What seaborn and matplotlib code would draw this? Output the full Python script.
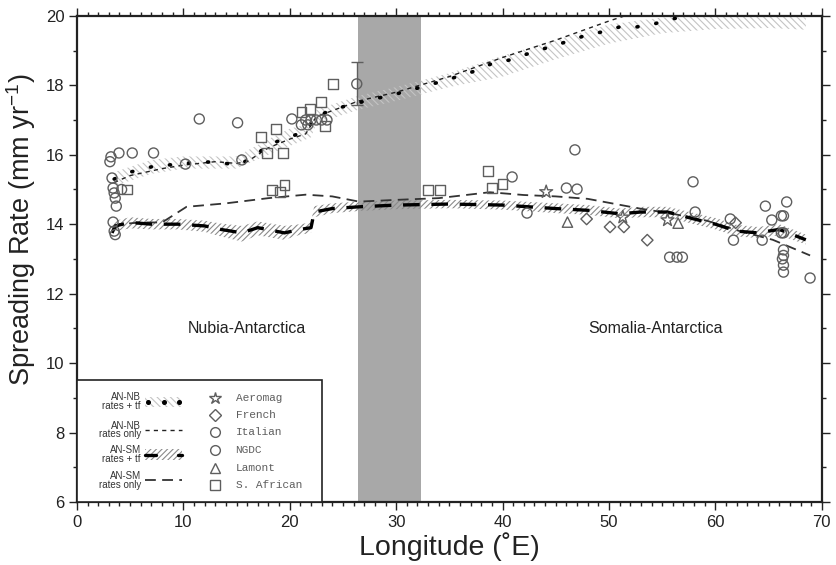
import numpy as np
import pandas as pd
import matplotlib
matplotlib.use("Agg")
import matplotlib.pyplot as plt
import seaborn as sns
from matplotlib.patches import Rectangle

# ---------------- model curves ----------------
# Nubia-Antarctica, rates + transform faults (centre of the uncertainty band)
nb_tf_lon = [3.5, 5, 7, 10, 13, 15, 16.5, 18, 20, 21.5, 22.5, 24, 26.5, 30, 33,
             34.8, 36.3, 37.7, 39.1, 40.7, 42.1, 43.5, 45.1, 46.5, 48.0, 49.4,
             51.0, 52.6, 54.0, 55.4, 57.0]
nb_tf_rate = [15.3, 15.5, 15.65, 15.75, 15.8, 15.7, 15.9, 16.3, 16.5, 16.7, 17.1,
              17.3, 17.5, 17.75, 18.0, 18.16, 18.3, 18.44, 18.64, 18.73, 18.88,
              19.02, 19.16, 19.31, 19.45, 19.54, 19.68, 19.68, 19.74, 19.88, 19.97]
# Nubia-Antarctica, rates only
nb_only_lon = [3.5, 5, 8, 10, 13, 15, 16, 18, 20, 21.5, 22.5, 26.5, 30, 35, 40,
               45, 50, 51.5, 55, 57]
nb_only_rate = [15.2, 15.4, 15.6, 15.7, 15.8, 15.75, 15.8, 16.2, 16.45, 16.6, 17.1,
                17.55, 17.8, 18.25, 18.8, 19.3, 19.85, 20.0, 20.05, 20.05]
# Nubia-Antarctica uncertainty band
nb_band_lon = [3.5, 7, 10, 15, 18, 20, 22, 22.5, 26.5, 30, 35, 40, 45, 50, 55,
               60, 65, 68.5]
nb_band_lo = [15.1, 15.45, 15.6, 15.6, 16.0, 16.25, 16.5, 16.9, 17.3, 17.55,
              17.95, 18.25, 18.75, 19.2, 19.5, 19.62, 19.65, 19.6]
nb_band_hi = [15.5, 15.85, 15.95, 15.95, 16.45, 16.75, 16.9, 17.3, 17.7, 17.95,
              18.35, 18.85, 19.3, 19.75, 19.95, 20.0, 20.0, 19.95]

# Somalia-Antarctica, rates + transform faults, with its band
sm_tf_lon = [3.3, 3.6, 5, 7, 9.5, 12, 13.5, 15.5, 17, 19.5, 21, 22, 22.3, 24,
             26.5, 30, 35, 40, 45, 48, 51, 53, 55.5, 58, 60, 62, 64, 66, 68.5]
sm_tf_rate = [13.75, 13.95, 14.05, 14.0, 14.0, 13.95, 13.85, 13.75, 13.9, 13.75,
              13.85, 13.9, 14.35, 14.45, 14.5, 14.55, 14.58, 14.55, 14.45, 14.4,
              14.3, 14.35, 14.35, 14.15, 14.0, 13.8, 13.75, 13.85, 13.55]
sm_band_lo = [13.6, 13.8, 13.88, 13.85, 13.85, 13.78, 13.65, 13.5, 13.68, 13.55,
              13.7, 13.75, 14.2, 14.32, 14.38, 14.43, 14.46, 14.42, 14.32, 14.27,
              14.17, 14.2, 14.2, 14.0, 13.85, 13.65, 13.6, 13.68, 13.42]
sm_band_hi = [13.9, 14.1, 14.2, 14.15, 14.15, 14.1, 14.02, 13.95, 14.08, 13.95,
              14.0, 14.05, 14.52, 14.6, 14.65, 14.68, 14.7, 14.68, 14.6, 14.55,
              14.45, 14.5, 14.5, 14.32, 14.18, 13.98, 13.92, 14.0, 13.7]
# Somalia-Antarctica, rates only
sm_only_lon = [3.5, 4, 6, 8, 10.3, 14, 18, 21.5, 24, 26.5, 30, 34, 38.8, 42, 45,
               48, 52.9, 56, 59.2, 62.3, 65.4, 68.9]
sm_only_rate = [13.85, 14.0, 14.05, 14.05, 14.5, 14.6, 14.75, 14.85, 14.8, 14.65,
                14.7, 14.75, 14.92, 14.84, 14.8, 14.73, 14.45, 14.3, 14.1, 13.8,
                13.55, 13.1]

# ---------------- observed spreading rates ----------------
aeromag_lon = [44.1, 51.3, 55.5]
aeromag_rate = [14.93, 14.2, 14.12]

french_lon = [47.9, 50.1, 51.4, 53.6, 61.9]
french_rate = [14.15, 13.92, 13.92, 13.54, 14.04]

italian_lon = [3.2, 3.95, 5.2, 7.2, 3.1, 11.5, 15.1, 10.2, 15.5, 20.2, 26.3,
               40.9, 46.8, 46.0, 47.0, 42.3, 57.9, 58.1, 61.4, 64.7, 66.7, 68.9]
italian_rate = [15.94, 16.05, 16.05, 16.05, 15.8, 17.03, 16.92, 15.73, 15.85,
                17.03, 18.04, 15.36, 16.14, 15.04, 15.01, 14.32, 15.22, 14.35,
                14.15, 14.52, 14.64, 12.45]

ngdc_lon = [3.3, 3.4, 3.5, 4.2, 3.6, 3.7, 3.4, 3.5, 3.6, 21.1, 21.7, 21.5, 22.0,
            22.5, 23.0, 23.5, 55.7, 56.4, 56.9, 61.7, 65.3, 64.4, 66.4, 66.2,
            66.4, 66.2, 66.4, 66.4, 66.3, 66.4, 66.4]
ngdc_rate = [15.33, 15.04, 14.9, 15.0, 14.75, 14.52, 14.06, 13.8, 13.7, 16.86,
             16.86, 17.0, 17.0, 17.0, 17.0, 17.0, 13.05, 13.05, 13.05, 13.54,
             14.12, 13.54, 14.24, 14.24, 13.75, 13.75, 13.26, 13.1, 13.0, 12.82,
             12.62]

lamont_lon = [46.1, 56.5]
lamont_rate = [14.06, 14.03]

safrican_lon = [4.7, 18.3, 19.1, 19.5, 33.0, 34.1, 38.6, 39.0, 40.0, 24.1, 22.9,
                21.9, 21.1, 18.7, 17.3, 17.9, 19.4, 23.3]
safrican_rate = [15.0, 14.98, 14.93, 15.13, 14.98, 14.98, 15.53, 15.04, 15.15,
                 18.04, 17.52, 17.32, 17.23, 16.74, 16.51, 16.05, 16.05, 16.83]

# one observation carries an explicit uncertainty
err_lon = [26.3]
err_rate = [18.04]
err_sigma = [0.62]

# plate-boundary transition zone
gap_lon = [26.4, 32.3]

sources = ["Aeromag", "French", "Italian", "NGDC", "Lamont", "S. African"]
obs = pd.concat([
    pd.DataFrame({"lon": aeromag_lon, "rate": aeromag_rate, "source": "Aeromag"}),
    pd.DataFrame({"lon": french_lon, "rate": french_rate, "source": "French"}),
    pd.DataFrame({"lon": italian_lon, "rate": italian_rate, "source": "Italian"}),
    pd.DataFrame({"lon": ngdc_lon, "rate": ngdc_rate, "source": "NGDC"}),
    pd.DataFrame({"lon": lamont_lon, "rate": lamont_rate, "source": "Lamont"}),
    pd.DataFrame({"lon": safrican_lon, "rate": safrican_rate, "source": "S. African"}),
], ignore_index=True)
marker_map = {"Aeromag": "*", "French": "D", "Italian": "o", "NGDC": "o",
              "Lamont": "^", "S. African": "s"}
size_map = {"Aeromag": 95, "French": 34, "Italian": 52, "NGDC": 52,
            "Lamont": 55, "S. African": 50}

# ---------------- styling ----------------
sns.set_theme(style="ticks")
plt.rcParams["font.family"] = ["Liberation Sans", "DejaVu Sans"]
plt.rcParams["mathtext.fontset"] = "custom"
plt.rcParams["mathtext.rm"] = "Liberation Sans"
plt.rcParams["hatch.linewidth"] = 0.8

fig = plt.figure(figsize=(8.36, 5.65), dpi=100)
ax = fig.add_axes([0.092, 0.1115, 0.891, 0.8605])

ink = "#222222"
grey_mk = "#5e5e5e"

ax.axvspan(gap_lon[0], gap_lon[1], color="#a8a8a8", lw=0, zorder=0.5)

# uncertainty bands
ax.fill_between(nb_band_lon, nb_band_lo, nb_band_hi, facecolor="none",
                edgecolor="#c4c4c4", hatch="\\\\\\\\\\", lw=0, zorder=1)
ax.fill_between(sm_tf_lon, sm_band_lo, sm_band_hi, facecolor="none",
                edgecolor="#8a8a8a", hatch="//////", lw=0, zorder=1)

# model curves
sns.lineplot(x=nb_only_lon, y=nb_only_rate, ax=ax, color=ink, lw=1.0,
             linestyle=(0, (3, 3)), estimator=None, sort=False, zorder=3)
sns.lineplot(x=nb_tf_lon, y=nb_tf_rate, ax=ax, color="black", lw=2.6,
             linestyle=(0, (0.3, 5.0)), dash_capstyle="round",
             estimator=None, sort=False, zorder=3)
sns.lineplot(x=sm_only_lon, y=sm_only_rate, ax=ax, color="#333333", lw=1.3,
             linestyle=(0, (6, 3.5)), estimator=None, sort=False, zorder=3)
sns.lineplot(x=sm_tf_lon, y=sm_tf_rate, ax=ax, color="black", lw=2.4,
             linestyle=(0, (5, 3.5)), estimator=None, sort=False, zorder=3)

# observations
sns.scatterplot(data=obs, x="lon", y="rate", style="source", markers=marker_map,
                style_order=sources, size="source", sizes=size_map,
                facecolor="none", edgecolor=grey_mk, linewidth=1.0,
                legend=False, ax=ax, zorder=4)
ax.errorbar(err_lon, err_rate, yerr=err_sigma, fmt="none", ecolor=grey_mk,
            elinewidth=1.0, capsize=4, capthick=1.0, zorder=4)

# region labels
ax.text(16, 11.0, "Nubia-Antarctica", ha="center", va="center", fontsize=11.5,
        color=ink)
ax.text(54.4, 11.0, "Somalia-Antarctica", ha="center", va="center",
        fontsize=11.5, color=ink)

# axes, ticks, frame
ax.set_xlim(0, 70)
ax.set_ylim(6, 20)
ax.set_xticks(np.arange(0, 71, 10))
ax.set_xticks(np.arange(0, 71, 1), minor=True)
ax.set_yticks(np.arange(6, 21, 2))
ax.set_yticks(np.arange(6, 21, 1), minor=True)
ax.tick_params(which="both", direction="out", top=True, right=True,
               color=ink, width=1.0)
ax.tick_params(which="major", length=6, labelsize=12, labelcolor=ink, pad=3)
ax.tick_params(which="minor", length=3)
for sp in ax.spines.values():
    sp.set_linewidth(1.6)
    sp.set_color(ink)
ax.set_xlabel("Longitude (\u02daE)", fontsize=20.5, color=ink, labelpad=2)
ax.set_ylabel("Spreading Rate (mm yr$^{\\mathregular{-1}}$)", fontsize=19.5,
              color=ink)
ax.yaxis.set_label_coords(-0.052, 0.56)

# ---------------- key ----------------
T = ax.transAxes
ax.add_patch(Rectangle((0, 0), 0.329, 0.251, transform=T, facecolor="white",
                       edgecolor=ink, lw=1.2, zorder=6))

curve_labels = ["AN-NB\nrates + tf", "AN-NB\nrates only",
                "AN-SM\nrates + tf", "AN-SM\nrates only"]
curve_y = [0.206, 0.148, 0.097, 0.045]
hx0, hx1 = 0.092, 0.141
for lab, yy in zip(curve_labels, curve_y):
    ax.text(0.086, yy, lab, transform=T, ha="right", va="center",
            multialignment="right", fontsize=7, linespacing=0.85,
            color="#333333", zorder=7)

# AN-NB rates + tf
yy = curve_y[0]
ax.add_patch(Rectangle((hx0, yy - 0.011), hx1 - hx0, 0.022, transform=T,
                       facecolor="none", edgecolor="#c4c4c4", hatch="\\\\\\\\\\",
                       lw=0, zorder=7))
ax.plot([0.096, 0.117, 0.137], [yy] * 3, transform=T, ls="none", marker="o",
        ms=2.6, color="black", zorder=8)
# AN-NB rates only
yy = curve_y[1]
ax.plot([hx0, hx1], [yy, yy], transform=T, color=ink, lw=1.0,
        ls=(0, (3, 3)), zorder=8)
# AN-SM rates + tf
yy = curve_y[2]
ax.add_patch(Rectangle((hx0, yy - 0.011), hx1 - hx0, 0.022, transform=T,
                       facecolor="none", edgecolor="#8a8a8a", hatch="//////",
                       lw=0, zorder=7))
ax.plot([hx0, 0.106], [yy, yy], transform=T, color="black", lw=2.4, zorder=8)
ax.plot([0.136, hx1], [yy, yy], transform=T, color="black", lw=2.4, zorder=8)
# AN-SM rates only
yy = curve_y[3]
ax.plot([hx0, hx1], [yy, yy], transform=T, color="#333333", lw=1.3,
        ls=(0, (6, 3.5)), zorder=8)

src_y = [0.214, 0.179, 0.144, 0.107, 0.070, 0.035]
for name, yy in zip(sources, src_y):
    ax.plot([0.185], [yy], transform=T, ls="none", marker=marker_map[name],
            ms=9 if name == "Aeromag" else (6 if name == "French" else 7),
            mfc="none", mec=grey_mk, mew=1.0, zorder=8)
    ax.text(0.213, yy, name, transform=T, ha="left", va="center",
            family=["Liberation Mono", "DejaVu Sans Mono"], fontsize=8,
            color=grey_mk, zorder=8)

fig.savefig("out.png", dpi=100)
